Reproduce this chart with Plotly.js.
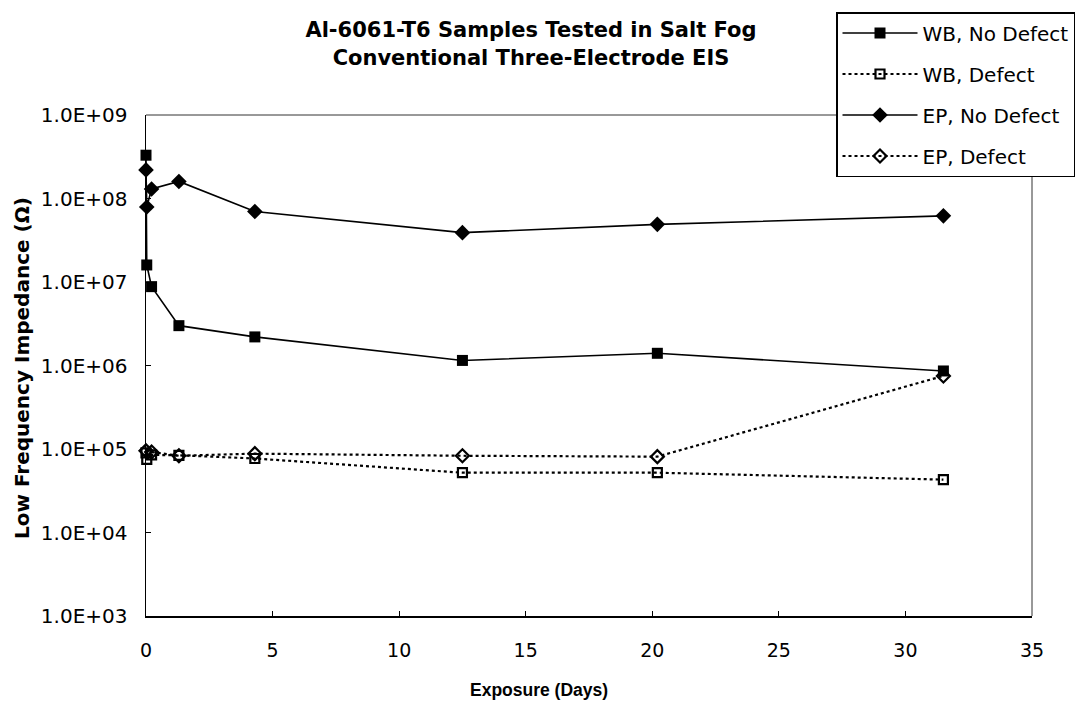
<!DOCTYPE html>
<html>
<head>
<meta charset="utf-8">
<script src="https://cdn.plot.ly/plotly-3.0.1.min.js"></script>
<style>body{margin:0;background:#fff;} #chart{width:1089px;height:707px;}</style>
</head>
<body>
<div id="chart"></div>
<script>
// Exposure (days) and low frequency impedance (ohm) for each series
var daysWBND = [0, 0.03, 0.22, 1.3, 4.3, 12.5, 20.2, 31.5];
var wbNoDefect = [3.3e8, 1.6e7, 8.8e6, 3.0e6, 2.2e6, 1.15e6, 1.4e6, 8.6e5];

var daysWBD = [0, 0.03, 0.22, 1.3, 4.3, 12.5, 20.2, 31.5];
var wbDefect = [9.0e4, 7.5e4, 8.5e4, 8.4e4, 7.7e4, 5.2e4, 5.2e4, 4.3e4];

var daysEPND = [0, 0.03, 0.22, 1.3, 4.3, 12.5, 20.2, 31.5];
var epNoDefect = [2.2e8, 7.9e7, 1.3e8, 1.6e8, 7.0e7, 3.9e7, 4.9e7, 6.2e7];

var daysEPD = [0, 0.22, 1.3, 4.3, 12.5, 20.2, 31.5];
var epDefect = [9.5e4, 9.2e4, 8.3e4, 8.8e4, 8.3e4, 8.1e4, 7.5e5];

var seriesNames = ["WB, No Defect", "WB, Defect", "EP, No Defect", "EP, Defect"];

var yTickVals = [1e3, 1e4, 1e5, 1e6, 1e7, 1e8, 1e9];
var yTickText = ["1.0E+03", "1.0E+04", "1.0E+05", "1.0E+06", "1.0E+07", "1.0E+08", "1.0E+09"];

var chartTitle = "Al-6061-T6 Samples Tested in Salt Fog<br>Conventional Three-Electrode EIS";
var xTitle = "Exposure (Days)";
var yTitle = "Low Frequency Impedance (Ω)";

var WIDE = "DejaVu Sans, Verdana, sans-serif";
var ARIAL = "Liberation Sans, Arial, sans-serif";

var traces = [
  {x: daysWBND, y: wbNoDefect, name: seriesNames[0], mode: "lines+markers", legendgroup: "a",
   line: {color: "#000", width: 1.6}, marker: {symbol: "square", size: 11, color: "#000"}, cliponaxis: false},
  {x: daysWBD, y: wbDefect, name: seriesNames[1], mode: "lines+markers", legendgroup: "b",
   line: {color: "#000", width: 2.2, dash: "dot"}, marker: {symbol: "square-open", size: 9, color: "#000", line: {width: 2.2}}, cliponaxis: false},
  {x: daysEPND, y: epNoDefect, name: seriesNames[2], mode: "lines+markers", legendgroup: "c",
   line: {color: "#000", width: 1.6}, marker: {symbol: "diamond", size: 12, color: "#000"}, cliponaxis: false},
  {x: daysEPD, y: epDefect, name: seriesNames[3], mode: "lines+markers", legendgroup: "d",
   line: {color: "#000", width: 2.2, dash: "dot"}, marker: {symbol: "diamond-open", size: 10, color: "#000", line: {width: 2.2}}, cliponaxis: false}
];

var layout = {
  width: 1089, height: 707,
  paper_bgcolor: "#fff", plot_bgcolor: "#fff",
  margin: {l: 146, r: 57, t: 115, b: 91},
  font: {family: WIDE, color: "#000", size: 19},
  title: {text: chartTitle,
          font: {family: WIDE, size: 21, color: "#000", weight: "bold"},
          x: 0.4876, xanchor: "center", y: 0.947, yanchor: "top"},
  xaxis: {range: [0, 35], dtick: 5, tick0: 0, showgrid: false, zeroline: false,
          showline: true, linecolor: "#000", linewidth: 1.5,
          ticks: "inside", ticklen: 5, tickcolor: "#000", ticklabelstandoff: 17,
          tickfont: {family: WIDE, size: 19, color: "#000"}},
  yaxis: {type: "log", range: [3, 9], tickvals: yTickVals, ticktext: yTickText,
          showgrid: false, zeroline: false,
          showline: true, linecolor: "#000", linewidth: 1.5,
          ticks: "inside", ticklen: 5, tickcolor: "#000", ticklabelstandoff: 13,
          tickfont: {family: WIDE, size: 20, color: "#000"}},
  shapes: [
    {type: "line", xref: "paper", yref: "paper", x0: 0, x1: 1, y0: 1, y1: 1, line: {color: "#333", width: 1}},
    {type: "line", xref: "paper", yref: "paper", x0: 1, x1: 1, y0: 0, y1: 1, line: {color: "#333", width: 1}}
  ],
  annotations: [
    {text: xTitle, xref: "paper", yref: "paper", x: (539 - 146) / 886, y: -(690 - 616) / 501,
     xanchor: "center", yanchor: "middle", showarrow: false,
     font: {family: ARIAL, size: 17.5, color: "#000", weight: "bold"}},
    {text: yTitle, xref: "paper", yref: "paper", x: (22 - 146) / 886, y: (616 - 368) / 501,
     xanchor: "center", yanchor: "middle", textangle: -90, showarrow: false,
     font: {family: WIDE, size: 20, color: "#000", weight: "bold"}}
  ],
  showlegend: true,
  legend: {x: (836 - 146) / 886, xanchor: "left", y: (616 - 12) / 501, yanchor: "top",
           bgcolor: "#fff", bordercolor: "#000", borderwidth: 1.5,
           font: {family: WIDE, size: 20, color: "#000"},
           traceorder: "grouped", tracegroupgap: 12, itemwidth: 75}
};

Plotly.newPlot("chart", traces, layout, {displayModeBar: false, staticPlot: true});
</script>
</body>
</html>
